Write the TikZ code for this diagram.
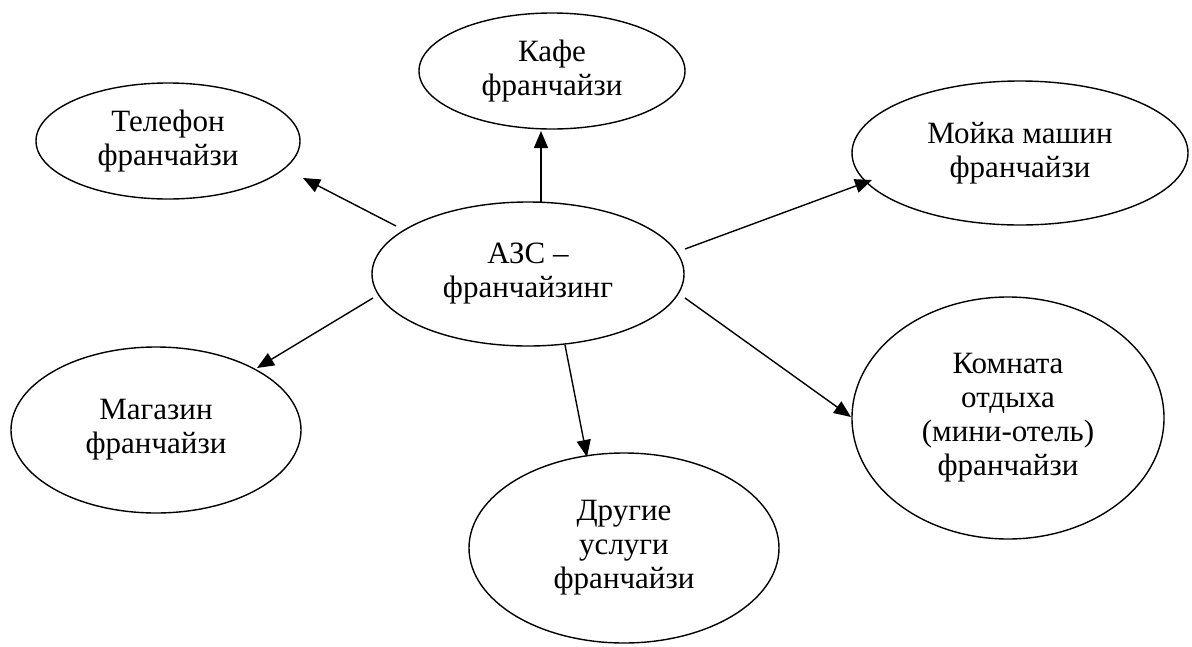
\documentclass[tikz,border=0pt]{standalone}
\usepackage{fontspec}
\setmainfont{Liberation Serif}
\usetikzlibrary{shapes.geometric,arrows.meta}
\begin{document}
\begin{tikzpicture}[x=1pt,y=-1pt,
  oval/.style={ellipse, draw, line width=1.4pt, inner sep=0pt, align=center,
    font=\fontsize{31}{34}\selectfont},
  arr/.style={line width=1.4pt, -{Triangle[length=17pt,width=14pt]}}]
\useasboundingbox (0,0) rectangle (1192,646);
\node[oval, minimum width=266pt, minimum height=116pt] (kafe) at (552,71) {Кафе\\франчайзи};
\node[oval, minimum width=264pt, minimum height=116pt] (tel) at (168,141) {Телефон\\франчайзи};
\node[oval, minimum width=312pt, minimum height=144pt] (c) at (528,274) {АЗС –\\франчайзинг};
\node[oval, minimum width=336pt, minimum height=144pt] (moy) at (1020,153) {Мойка машин\\франчайзи};
\node[oval, minimum width=290pt, minimum height=166pt] (mag) at (156,430) {Магазин\\франчайзи};
\node[oval, minimum width=310pt, minimum height=190pt] (dr) at (624,548) {Другие\\услуги\\франчайзи};
\node[oval, minimum width=312pt, minimum height=242pt] (kom) at (1008,418) {Комната\\отдыха\\(мини-отель)\\франчайзи};
\draw[arr] ([shift={(-132,-48)}]c.center) -- ([shift={(135,37)}]tel.center);
\draw[arr] ([shift={(13,-72)}]c.center) -- ([shift={(-11,60)}]kafe.center);
\draw[arr] ([shift={(157,-25)}]c.center) -- ([shift={(-148,27)}]moy.center);
\draw[arr] ([shift={(-155,24)}]c.center) -- ([shift={(101,-62)}]mag.center);
\draw[arr] ([shift={(37,71)}]c.center) -- ([shift={(-37,-91)}]dr.center);
\draw[arr] ([shift={(157,24)}]c.center) -- ([shift={(-157,-1)}]kom.center);
\end{tikzpicture}
\end{document}
